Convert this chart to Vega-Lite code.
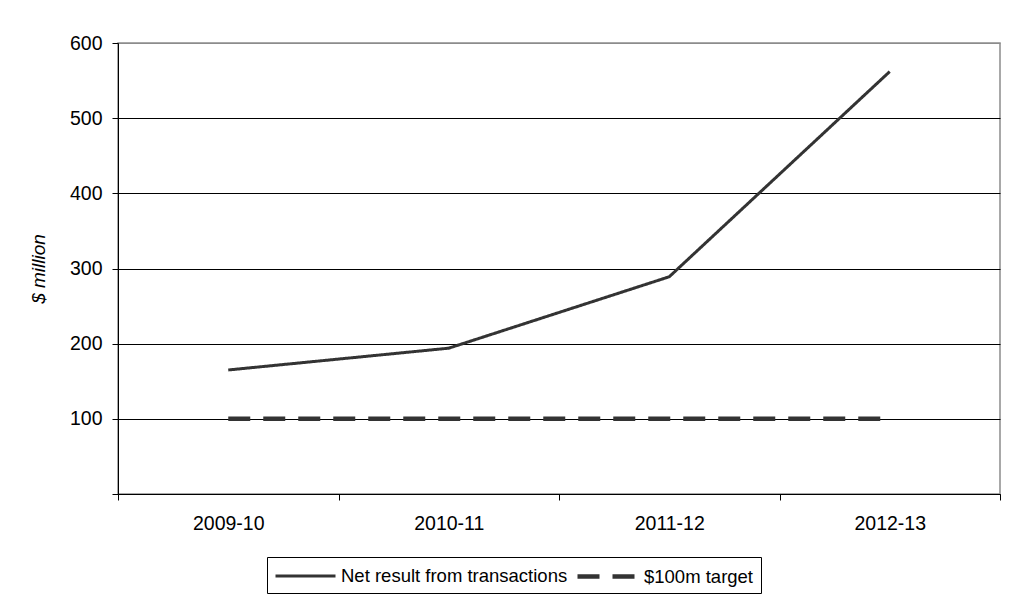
{
  "$schema": "https://vega.github.io/schema/vega-lite/v6.json",
  "autosize": {"type": "none"},
  "width": 882,
  "height": 451,
  "padding": {"left": 118, "top": 43, "right": 29, "bottom": 112},
  "background": "white",
  "config": {
    "font": "Liberation Sans",
    "view": {"stroke": "#8c8c8c", "strokeWidth": 1.5}
  },
  "data": {
    "values": [
      {"year": "2009-10", "series": "Net result from transactions", "value": 165},
      {"year": "2010-11", "series": "Net result from transactions", "value": 194},
      {"year": "2011-12", "series": "Net result from transactions", "value": 289},
      {"year": "2012-13", "series": "Net result from transactions", "value": 562},
      {"year": "2009-10", "series": "$100m target", "value": 100},
      {"year": "2010-11", "series": "$100m target", "value": 100},
      {"year": "2011-12", "series": "$100m target", "value": 100},
      {"year": "2012-13", "series": "$100m target", "value": 100}
    ]
  },
  "mark": {"type": "line", "color": "#333333", "strokeCap": "butt"},
  "encoding": {
    "x": {
      "field": "year",
      "type": "ordinal",
      "scale": {"type": "band", "paddingInner": 0, "paddingOuter": 0},
      "axis": {
        "title": null,
        "labelAngle": 0,
        "labelFontSize": 19.5,
        "labelColor": "black",
        "labelPadding": 14,
        "tickBand": "extent",
        "tickSize": 6,
        "tickColor": "black",
        "domainColor": "black",
        "grid": false
      }
    },
    "y": {
      "field": "value",
      "type": "quantitative",
      "scale": {"domain": [0, 600], "nice": false},
      "axis": {
        "title": "$ million",
        "titleFontSize": 19,
        "titleFontStyle": "italic",
        "titleFontWeight": "normal",
        "titleColor": "black",
        "titlePadding": 21,
        "values": [0, 100, 200, 300, 400, 500, 600],
        "labelExpr": "datum.value === 0 ? '' : datum.label",
        "labelFontSize": 19.5,
        "labelColor": "black",
        "labelPadding": 10,
        "tickSize": 6,
        "tickColor": "black",
        "domainColor": "black",
        "grid": true,
        "gridColor": {"condition": {"test": "datum.value === 600", "value": "#8c8c8c"}, "value": "black"},
        "gridWidth": 1
      }
    },
    "strokeDash": {
      "field": "series",
      "type": "nominal",
      "scale": {"domain": ["Net result from transactions", "$100m target"], "range": [[1, 0], [22, 13]]},
      "legend": {
        "title": null,
        "orient": "none",
        "legendX": 149,
        "legendY": 514,
        "direction": "horizontal",
        "strokeColor": "black",
        "fillColor": "white",
        "padding": 7,
        "labelFontSize": 18.5,
        "labelColor": "black",
        "labelLimit": 0,
        "symbolType": "M-3,0H3",
        "symbolSize": 400,
        "symbolOffset": 20,
        "symbolStrokeColor": "#333333",
        "symbolStrokeWidth": 3,
        "columnPadding": 0,
        "labelOffset": 24
      }
    },
    "strokeWidth": {
      "field": "series",
      "type": "nominal",
      "scale": {"domain": ["Net result from transactions", "$100m target"], "range": [3, 4.5]},
      "legend": null
    }
  }
}
